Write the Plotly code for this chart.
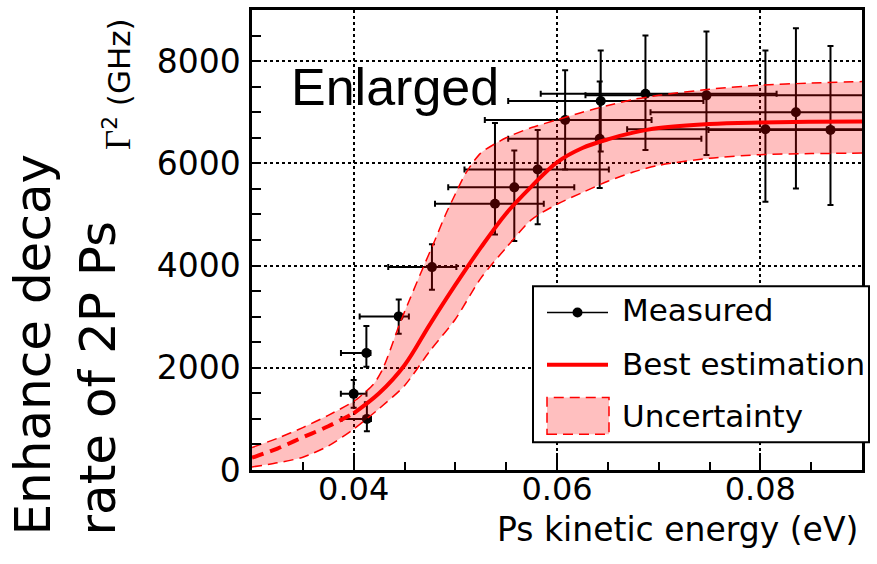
import plotly.graph_objects as go

# ---- measured 2P Ps decay-rate enhancement ----
energy = [0.0400, 0.0413, 0.04125, 0.04443, 0.0477, 0.0539, 0.0558, 0.0581,
          0.0608, 0.0642, 0.0643, 0.0687, 0.0747, 0.0805, 0.0835, 0.0869]
gamma = [1490, 1000, 2290, 3005, 3970, 5210, 5530, 5880,
         6849, 6480, 7220, 7360, 7330, 6667, 7000, 6654]
energy_err_lo = [0.00126, 0.0025, 0.0025, 0.00384, 0.0043, 0.0059, 0.0065, 0.0072,
                 0.0079, 0.0090, 0.0091, 0.0103, 0.0119, 0.0136, 0.0143, 0.0120]
energy_err_hi = [0.00126, 0.0004, 0.0004, 0.0010, 0.0024, 0.0048, 0.0059, 0.0070,
                 0.0085, 0.0100, 0.0101, 0.0129, 0.0180, 0.0136, 0.0143, 0.0120]
gamma_err_lo = [270, 240, 270, 340, 445, 600, 1050, 1070,
                970, 964, 990, 1100, 1165, 1420, 1490, 1470]
gamma_err_hi = [270, 324, 527, 330, 445, 1580, 720, 770,
                970, 1120, 990, 1140, 1250, 1540, 1645, 1640]

# ---- best estimation curve ----
fit_energy = [0.030, 0.0325, 0.035, 0.0375, 0.040, 0.0425, 0.045, 0.0475, 0.050,
              0.0525, 0.055, 0.0575, 0.060, 0.0625, 0.065, 0.0675, 0.070, 0.075,
              0.080, 0.085, 0.090]
fit_best = [240, 420, 640, 855, 1110, 1500, 2050, 2850, 3620,
            4350, 5020, 5550, 6020, 6300, 6470, 6600, 6690, 6770,
            6800, 6815, 6820]

# ---- uncertainty band ----
band_hi_energy = [0.030, 0.0325, 0.035, 0.0375, 0.040, 0.041, 0.042, 0.0428, 0.0436,
                  0.0445, 0.0455, 0.0467, 0.048, 0.049, 0.050, 0.051, 0.0525, 0.055,
                  0.0575, 0.060, 0.0625, 0.065, 0.0675, 0.070, 0.075, 0.080, 0.085, 0.090]
band_hi = [440, 620, 830, 1070, 1340, 1500, 1690, 1950, 2350,
           2850, 3330, 3900, 4500, 4980, 5400, 5800, 6200, 6500,
           6700, 6850, 7000, 7130, 7250, 7330, 7450, 7530, 7570, 7600]
band_lo_energy = fit_energy
band_lo = [60, 140, 250, 470, 800, 1200, 1650, 2330, 2950,
           3750, 4350, 4900, 5200, 5430, 5650, 5830, 5960, 6100,
           6170, 6190, 6200]

x_ticks = [0.04, 0.06, 0.08]
y_ticks = [0, 2000, 4000, 6000, 8000]

RED = "rgb(255,0,0)"
BAND_FILL = "rgba(255,0,0,0.25)"
SANS = "DejaVu Sans"

fig = go.Figure()

# points first so the translucent band tints them
fig.add_trace(go.Scatter(
    x=energy, y=gamma, mode="markers",
    marker=dict(color="black", size=10),
    error_x=dict(type="data", symmetric=False, array=energy_err_hi,
                 arrayminus=energy_err_lo, color="black", thickness=2, width=3),
    error_y=dict(type="data", symmetric=False, array=gamma_err_hi,
                 arrayminus=gamma_err_lo, color="black", thickness=2, width=3),
    showlegend=False))

fig.add_trace(go.Scatter(
    x=band_lo_energy, y=band_lo, mode="lines",
    line=dict(color=RED, width=1.5, dash="10px,6px", shape="spline", smoothing=0.7),
    showlegend=False))
fig.add_trace(go.Scatter(
    x=band_hi_energy, y=band_hi, mode="lines", fill="tonexty", fillcolor=BAND_FILL,
    line=dict(color=RED, width=1.5, dash="10px,6px", shape="spline", smoothing=0.7),
    showlegend=False))

# extrapolated part dashed, fitted part solid
fig.add_trace(go.Scatter(
    x=fit_energy[:5], y=fit_best[:5], mode="lines",
    line=dict(color=RED, width=4, dash="12px,7px", shape="spline"),
    showlegend=False))
fig.add_trace(go.Scatter(
    x=fit_energy[4:], y=fit_best[4:], mode="lines",
    line=dict(color=RED, width=4, shape="spline"),
    showlegend=False))

L, R, T, B = 252, 15, 7, 94
W, H = 877, 564
PW, PH = W - L - R, H - T - B


def px_x(px):
    return (px - L) / PW


def px_y(py):
    return (T + PH - py) / PH


axis_common = dict(
    showline=True, linecolor="black", linewidth=2.5, mirror=True,
    showgrid=True, gridcolor="black", griddash="dot", gridwidth=2,
    ticks="inside", tickcolor="black", tickwidth=1.5,
    tickfont=dict(family=SANS, size=33, color="black"),
    zeroline=False,
)

fig.update_xaxes(range=[0.03, 0.09], tickvals=x_ticks, tickformat=".2f",
                 ticklen=17, ticklabelstandoff=-11,
                 tickfont=dict(family=SANS, size=32, color="black"),
                 minor=dict(dtick=0.005, tick0=0, ticks="inside", ticklen=8,
                            tickwidth=1.5, tickcolor="black", showgrid=False),
                 **{k: v for k, v in axis_common.items() if k != "tickfont"})
fig.update_yaxes(range=[0, 9000], tickvals=y_ticks, ticklen=9, ticklabelstandoff=2,
                 minor=dict(dtick=500, tick0=0, ticks="inside", ticklen=9,
                            tickwidth=1.5, tickcolor="black", showgrid=False),
                 **axis_common)

annotations = [
    dict(text="Enlarged", x=px_x(289), y=px_y(85), xanchor="left", yanchor="middle",
         font=dict(family="Liberation Sans", size=52, color="black")),
    dict(text="Ps kinetic energy (eV)", x=px_x(860), y=px_y(530),
         xanchor="right", yanchor="middle",
         font=dict(family=SANS, size=33, color="black")),
    dict(text="Enhance decay<br>rate of 2P Ps", textangle=-90, align="left",
         x=px_x(66), y=px_y(538), xanchor="center", yanchor="bottom",
         font=dict(family=SANS, size=50, color="black")),
    dict(text='<span style="font-family:Liberation Serif;font-size:35px">Γ</span>'
              '<sup>2</sup> (GHz)',
         textangle=-90, x=px_x(117), y=px_y(150), xanchor="center", yanchor="bottom",
         font=dict(family=SANS, size=31, color="black")),
    dict(text="Measured", x=px_x(620), y=px_y(309), xanchor="left", yanchor="middle",
         font=dict(family=SANS, size=31, color="black")),
    dict(text="Best estimation", x=px_x(620), y=px_y(363), xanchor="left", yanchor="middle",
         font=dict(family=SANS, size=31, color="black")),
    dict(text="Uncertainty", x=px_x(620), y=px_y(416), xanchor="left", yanchor="middle",
         font=dict(family=SANS, size=31, color="black")),
]
for a in annotations:
    a.update(xref="paper", yref="paper", showarrow=False)

shapes = [
    # legend frame
    dict(type="rect", x0=px_x(533), x1=px_x(869), y0=px_y(442), y1=px_y(285),
         line=dict(color="black", width=2), fillcolor="white"),
    # Measured key
    dict(type="line", x0=px_x(547), x1=px_x(608), y0=px_y(311.5), y1=px_y(311.5),
         line=dict(color="black", width=1.5)),
    dict(type="circle", x0=px_x(572.5), x1=px_x(582.5), y0=px_y(316.5), y1=px_y(306.5),
         line=dict(color="black", width=0), fillcolor="black"),
    # Best estimation key
    dict(type="line", x0=px_x(547), x1=px_x(608), y0=px_y(364), y1=px_y(364),
         line=dict(color=RED, width=4)),
    # Uncertainty key
    dict(type="rect", x0=px_x(547), x1=px_x(609), y0=px_y(434), y1=px_y(397),
         line=dict(color=RED, width=1.5, dash="10px,6px"), fillcolor=BAND_FILL),
]
for s in shapes:
    s.update(xref="paper", yref="paper", layer="above")

fig.update_layout(
    width=W, height=H,
    margin=dict(l=L, r=R, t=T, b=B),
    plot_bgcolor="white", paper_bgcolor="white",
    showlegend=False,
    font=dict(family=SANS, color="black"),
    annotations=annotations,
    shapes=shapes,
)

fig.write_html("out.html")
